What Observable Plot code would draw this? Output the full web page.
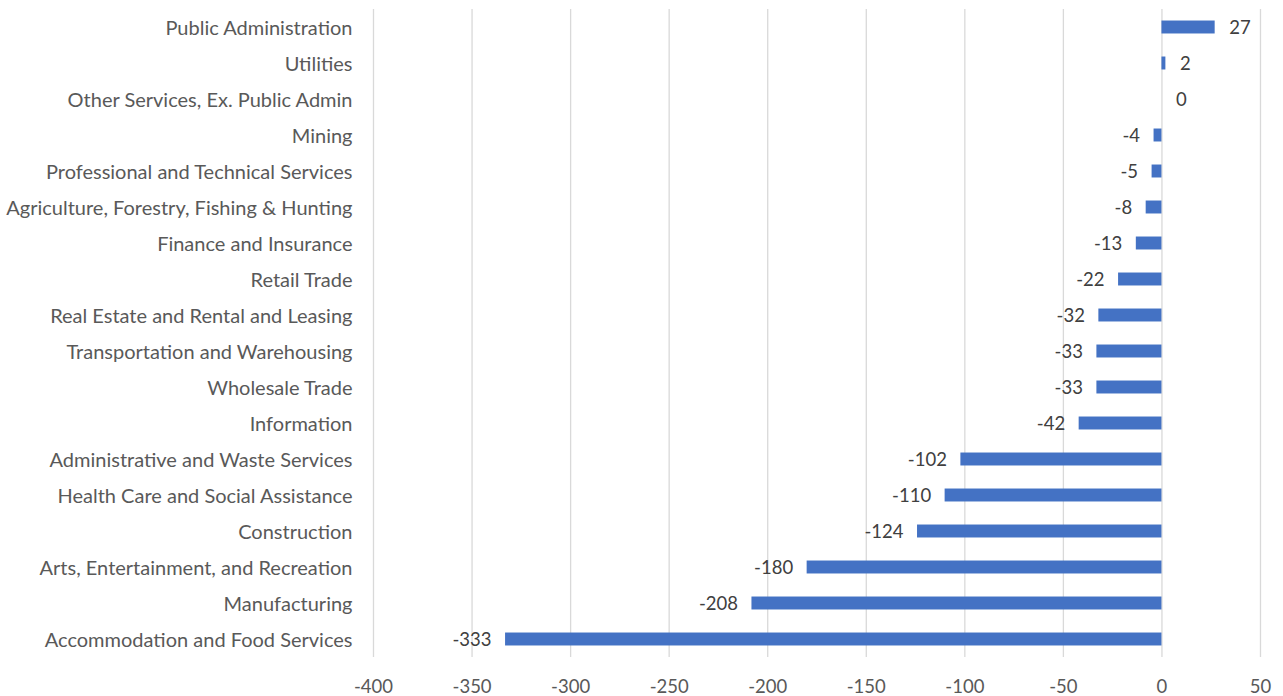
<!DOCTYPE html>
<html>
<head>
<meta charset="utf-8">
<script src="https://cdn.jsdelivr.net/npm/d3@7"></script>
<script src="https://cdn.jsdelivr.net/npm/@observablehq/plot@0.6"></script>
<style>
  html, body { margin: 0; padding: 0; background: #fff; }
  #chart svg { display: block; }
</style>
</head>
<body>
<div id="chart"></div>
<script>
const industries = [
  "Public Administration",
  "Utilities",
  "Other Services, Ex. Public Admin",
  "Mining",
  "Professional and Technical Services",
  "Agriculture, Forestry, Fishing & Hunting",
  "Finance and Insurance",
  "Retail Trade",
  "Real Estate and Rental and Leasing",
  "Transportation and Warehousing",
  "Wholesale Trade",
  "Information",
  "Administrative and Waste Services",
  "Health Care and Social Assistance",
  "Construction",
  "Arts, Entertainment, and Recreation",
  "Manufacturing",
  "Accommodation and Food Services"
];
const changes = [27, 2, 0, -4, -5, -8, -13, -22, -32, -33, -33, -42, -102, -110, -124, -180, -208, -333];
const xTicks = [-400, -350, -300, -250, -200, -150, -100, -50, 0, 50];

const data = industries.map((name, i) => ({name, value: changes[i]}));
const font = "Lato, 'Open Sans', sans-serif";

const chart = Plot.plot({
  width: 1283,
  height: 696,
  marginLeft: 373,
  marginRight: 23,
  marginTop: 9,
  marginBottom: 39,
  style: {fontFamily: font, fontSize: "18.5px", color: "#595959", background: "#fff"},
  x: {domain: [-400, 50], ticks: xTicks, tickSize: 0, tickPadding: 22, label: null, tickFormat: d => String(d).replace("−", "-")},
  y: {domain: industries, paddingInner: 0.64, paddingOuter: 0.32, round: false, tickSize: 0, tickPadding: 21, label: null},
  marks: [
    Plot.gridX(xTicks, {stroke: "#d9d9d9", strokeOpacity: 1, strokeWidth: 1.3}),
    Plot.barX(data, {x: "value", y: "name", fill: "#4472C4"}),
    Plot.axisY({tickSize: 0, tickPadding: 21, fontSize: 20, dy: 1, label: null}),
    Plot.text(data.filter(d => d.value >= 0), {x: "value", y: "name", text: d => String(d.value), textAnchor: "start", dx: 14, dy: 1, fill: "#404040", fontSize: 18.5}),
    Plot.text(data.filter(d => d.value < 0), {x: "value", y: "name", text: d => String(d.value), textAnchor: "end", dx: -14, dy: 1, fill: "#404040", fontSize: 18.5})
  ]
});
document.getElementById("chart").appendChild(chart);
</script>
</body>
</html>
